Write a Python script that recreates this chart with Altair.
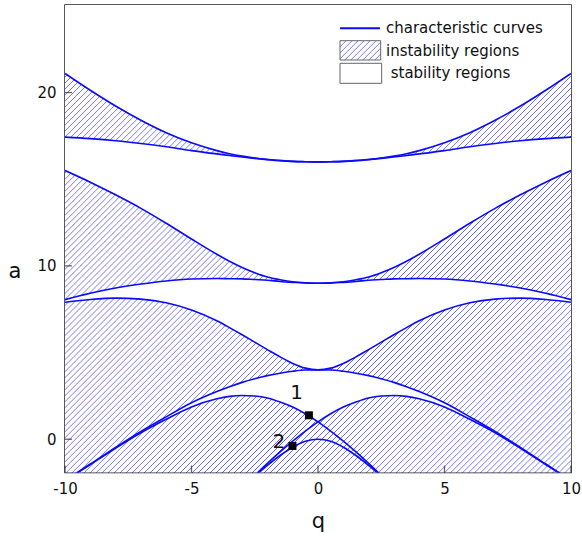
import altair as alt
import pandas as pd

# ---------------- data ----------------
# half grid (q >= 0); the diagram is mirror-symmetric in q
q_half = [0, 0.5, 1, 1.5, 2, 2.5, 3, 3.5, 4, 5, 6, 7, 8, 9, 10]
a1_half = [1.0, 1.47, 1.86, 2.15, 2.38, 2.49, 2.52, 2.47, 2.33, 1.86, 1.15, 0.37, -0.52, -1.46, -2.40]
b2_half = [4.0, 3.99, 3.92, 3.81, 3.67, 3.49, 3.28, 3.03, 2.75, 2.10, 1.29, 0.45, -0.47, -1.43, -2.38]
a2_half = [4.0, 4.10, 4.37, 4.75, 5.17, 5.60, 6.03, 6.44, 6.83, 7.45, 7.87, 8.08, 8.14, 8.06, 7.90]
b3_half = [9.0, 9.01, 9.05, 9.10, 9.17, 9.21, 9.25, 9.26, 9.27, 9.24, 9.13, 8.95, 8.72, 8.42, 8.05]
a3_half = [9.0, 9.02, 9.08, 9.20, 9.36, 9.61, 9.91, 10.27, 10.67, 11.55, 12.46, 13.32, 14.10, 14.83, 15.50]
b4_half = [16.0, 16.01, 16.03, 16.07, 16.13, 16.20, 16.28, 16.37, 16.46, 16.65, 16.87, 17.06, 17.22, 17.34, 17.43]
a4_half = [16.0, 16.01, 16.03, 16.08, 16.14, 16.22, 16.33, 16.47, 16.65, 17.10, 17.68, 18.40, 19.22, 20.13, 21.10]

q_low = [0, 0.5, 1, 1.5, 2, 2.5, 3]
a0_low = [0.0, -0.12, -0.46, -0.94, -1.51, -2.14, -2.83]
b1_low = [1.0, 0.47, -0.11, -0.73, -1.39, -2.09, -2.79]

marker_q = [-0.36, -1.01]
marker_a = [1.38, -0.39]
marker_text = ["1", "2"]
marker_text_q = [-0.85, -1.55]
marker_text_a = [2.65, -0.14]

x_ticks = [-10, -5, 0, 5, 10]
y_ticks = [0, 10, 20]
legend_labels = ["characteristic curves", "instability regions", "stability regions"]

# ---------------- layout ----------------
W, H = 506, 467.5
X_DOM = [-10, 10]
Y_DOM = [-1.92, 25.05]
FONT = "DejaVu Sans"
BLUE = "#0a0aff"
HATCH = "#5a5aff"


def mirror(qs, vs):
    rows = [(-q, v) for q, v in zip(qs[::-1], vs[::-1]) if q != 0]
    rows += list(zip(qs, vs))
    return rows


def two_sided(q_neg, v_neg, q_pos, v_pos):
    rows = [(-q, v) for q, v in zip(q_neg[::-1], v_neg[::-1]) if q != 0]
    rows += list(zip(q_pos, v_pos))
    return rows


curves = {
    "a0": mirror(q_low, a0_low),
    "a1": two_sided(q_low, b1_low, q_half, a1_half),
    "b1": two_sided(q_half, a1_half, q_low, b1_low),
    "b2": mirror(q_half, b2_half),
    "a2": mirror(q_half, a2_half),
    "b3": mirror(q_half, b3_half),
    "a3": mirror(q_half, a3_half),
    "b4": mirror(q_half, b4_half),
    "a4": mirror(q_half, a4_half),
}
curve_df = pd.DataFrame(
    [{"curve": k, "q": q, "a": v, "order": i} for k, rows in curves.items() for i, (q, v) in enumerate(rows)]
)

stable_pairs = [("s1", a1_half, b2_half), ("s2", a2_half, b3_half), ("s3", a3_half, b4_half)]
stable_rows = []
for name, lo, hi in stable_pairs:
    for (q, l), (_, h) in zip(mirror(q_half, lo), mirror(q_half, hi)):
        stable_rows.append({"region": name, "q": q, "lo": l, "hi": h})
for q, v in mirror(q_half, a4_half):
    stable_rows.append({"region": "s4", "q": q, "lo": v, "hi": Y_DOM[1] + 1})
stable_df = pd.DataFrame(stable_rows)


def hatch_gradient(w, h, period):
    # stripes along x + y = const (45 deg in pixels), spanning the whole box
    r = h / w
    k = (1 + r) / (1 + r * r)
    n = max(1, round((w + h) / period))
    stops = []
    for i in range(n):
        b = i / n
        stops.append(alt.GradientStop(offset=b, color=HATCH))
        stops.append(alt.GradientStop(offset=b + 0.14 / n, color="white"))
        stops.append(alt.GradientStop(offset=b + 0.86 / n, color="white"))
    stops.append(alt.GradientStop(offset=1, color=HATCH))
    return alt.LinearGradient(gradient="linear", stops=stops, x1=0, y1=0, x2=k, y2=k * r)


x_axis = alt.Axis(
    values=x_ticks, ticks=False, grid=False, domain=False, labelExpr="'' + datum.value",
    labelFlush=False, labelFont=FONT, labelFontSize=15, labelColor="#111", labelPadding=9,
    title="q", titleFont=FONT, titleFontSize=21, titleFontWeight="normal", titleColor="#111",
    titleY=55, titleBaseline="alphabetic",
)
y_axis = alt.Axis(
    values=y_ticks, ticks=False, grid=False, domain=False, labelExpr="'' + datum.value",
    labelFlush=False, labelFont=FONT, labelFontSize=15, labelColor="#111", labelPadding=9,
    title="a", titleFont=FONT, titleFontSize=21, titleFontWeight="normal", titleColor="#111",
    titleAngle=0, titleX=-50.5, titleY=272, titleBaseline="alphabetic", titleAlign="center",
)
xs = alt.Scale(domain=X_DOM, nice=False, zero=False)
ys = alt.Scale(domain=Y_DOM, nice=False, zero=False)


def X(field):
    return alt.X(field, type="quantitative", scale=xs, axis=x_axis)


def Y(field):
    return alt.Y(field, type="quantitative", scale=ys, axis=y_axis)


one = pd.DataFrame({"k": [0]})

background = alt.Chart(one).mark_rect(fill=hatch_gradient(W, H, 6.0), strokeWidth=0).encode(
    x=alt.value(0), x2=alt.value(W), y=alt.value(0), y2=alt.value(H)
)

stable = alt.Chart(stable_df).mark_area(color="white", interpolate="monotone", clip=True).encode(
    x=X("q"), y=Y("lo"), y2="hi", detail="region:N"
)

lines = alt.Chart(curve_df).mark_line(color=BLUE, strokeWidth=1.6, interpolate="monotone", clip=True).encode(
    x=X("q"), y=Y("a"), detail="curve:N", order="order:Q"
)

mk_df = pd.DataFrame({"q": marker_q, "a": marker_a})
markers = alt.Chart(mk_df).mark_square(size=64, color="black", opacity=1).encode(x=X("q"), y=Y("a"))
mt_df = pd.DataFrame({"q": marker_text_q, "a": marker_text_a, "t": marker_text})
marker_labels = alt.Chart(mt_df).mark_text(font=FONT, fontSize=20, color="#111").encode(
    x=X("q"), y=Y("a"), text="t:N"
)

xt_df = pd.DataFrame({"q": x_ticks})
xticks = alt.Chart(xt_df).mark_tick(orient="vertical", size=7, thickness=1.3, color="#222").encode(
    x=X("q"), y=alt.value(H - 3.5)
)
yt_df = pd.DataFrame({"a": y_ticks})
yticks = alt.Chart(yt_df).mark_tick(orient="horizontal", size=7, thickness=1.3, color="#222").encode(
    y=Y("a"), x=alt.value(3.5)
)

leg_line = alt.Chart(one).mark_rule(color=BLUE, strokeWidth=2).encode(
    x=alt.value(275), x2=alt.value(315), y=alt.value(23.3)
)
leg_hatch = alt.Chart(one).mark_rect(fill=hatch_gradient(40.7, 19.3, 6.0), stroke="#666", strokeWidth=1).encode(
    x=alt.value(275), x2=alt.value(315.7), y=alt.value(35.7), y2=alt.value(55)
)
leg_empty = alt.Chart(one).mark_rect(fill="white", stroke="#666", strokeWidth=1).encode(
    x=alt.value(275), x2=alt.value(316.7), y=alt.value(58.3), y2=alt.value(78.3)
)
leg_texts = [
    alt.Chart(one).mark_text(font=FONT, fontSize=15, align="left", baseline="middle", color="#111").encode(
        x=alt.value(xp), y=alt.value(yp), text=alt.value(t)
    )
    for t, xp, yp in zip(legend_labels, [321, 321, 325.7], [23, 46, 67.5])
]

chart = alt.layer(
    background, stable, lines, markers, marker_labels, xticks, yticks,
    leg_line, leg_hatch, leg_empty, *leg_texts
).properties(
    width=W, height=H,
    autosize=alt.AutoSizeParams(type="none"),
    padding={"left": 65, "top": 5, "right": 11, "bottom": 63.5},
    background="white",
).configure_view(stroke="#222", strokeWidth=1.5)

chart.save("out.html", embed_options={"renderer": "svg", "actions": False})
